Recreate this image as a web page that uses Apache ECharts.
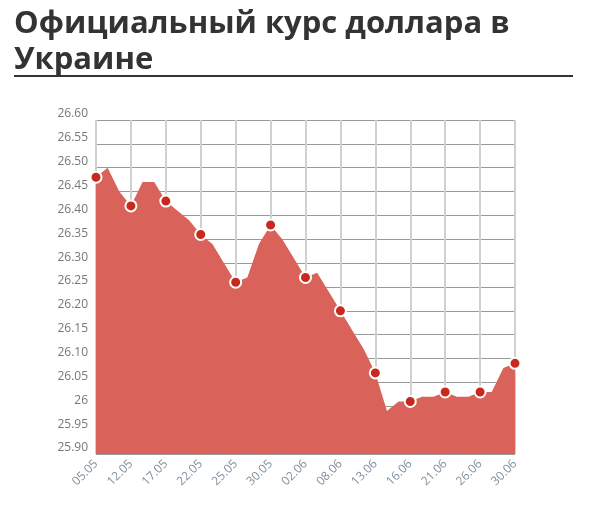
<!DOCTYPE html>
<html>
<head>
<meta charset="utf-8">
<script src="https://cdn.jsdelivr.net/npm/echarts@6/dist/echarts.min.js"></script>
<style>html,body{margin:0;background:#fff}#c{width:597px;height:517px}</style>
</head>
<body>
<div id="c"></div>
<script>
var dates = ['05.05','06.05','07.05','12.05','13.05','14.05','17.05','18.05','19.05','22.05','23.05','24.05','25.05','26.05','27.05','30.05','31.05','01.06','02.06','03.06','06.06','08.06','09.06','10.06','13.06','14.06','15.06','16.06','17.06','20.06','21.06','22.06','23.06','26.06','27.06','29.06','30.06'];
var rates = [26.48,26.50,26.45,26.42,26.47,26.47,26.43,26.41,26.39,26.36,26.34,26.30,26.26,26.27,26.34,26.38,26.35,26.31,26.27,26.28,26.24,26.20,26.16,26.12,26.07,25.99,26.01,26.01,26.02,26.02,26.03,26.02,26.02,26.03,26.03,26.08,26.09];

var chart = echarts.init(document.getElementById('c'));
chart.setOption({
    animation: false,
    graphic: [{
        type: 'text', left: 14, top: 6,
        style: { text: 'Официальный курс доллара в\nУкраине', font: 'bold 31px "Open Sans"', fill: '#333', lineHeight: 36 }
    }, {
        type: 'rect', shape: { x: 14, y: 75, width: 559, height: 2 }, style: { fill: '#333' }
    }],
    grid: { left: 96, right: 82, top: 120, bottom: 63 },
    xAxis: {
        type: 'category', boundaryGap: false, data: dates,
        axisLine: { show: false }, axisTick: { show: false },
        axisLabel: { interval: 2, rotate: 45, color: '#8090a0', fontFamily: 'Open Sans', fontSize: 12 },
        splitLine: { show: true, interval: 2, lineStyle: { color: '#d0d0d0', width: 2 } }
    },
    yAxis: {
        type: 'value', min: 25.9, max: 26.6, interval: 0.05,
        axisLine: { show: false }, axisTick: { show: false },
        axisLabel: {
            color: '#777', fontFamily: 'Open Sans', fontSize: 12, verticalAlign: 'bottom', margin: 8,
            formatter: function (v) { return Math.abs(v - 26) < 1e-6 ? '26' : v.toFixed(2); }
        },
        splitLine: { lineStyle: { color: '#999', width: 1 } }
    },
    series: [{
        type: 'line', data: rates,
        symbol: 'circle', symbolSize: 11,
        itemStyle: { color: '#c8281e', borderColor: '#fff', borderWidth: 2 },
        lineStyle: { width: 0 },
        areaStyle: { color: '#d9625a', opacity: 1 }
    }]
});
</script>
</body>
</html>
